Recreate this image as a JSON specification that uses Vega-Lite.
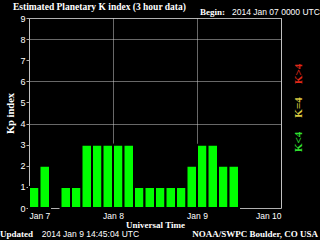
{
  "$schema": "https://vega.github.io/schema/vega-lite/v6.json",
  "width": 252,
  "height": 190,
  "autosize": {"type": "none"},
  "padding": {"left": 29, "top": 18, "right": 39, "bottom": 32},
  "background": "black",
  "title": {"text": "Estimated Planetary K index (3 hour data)", "anchor": "start", "frame": "group", "dx": -16, "offset": -3, "font": "Liberation Serif", "fontSize": 9.5, "fontWeight": "bold", "color": "white"},
  "config": {
    "view": {"stroke": "#b0b0b0", "strokeWidth": 1},
    "axis": {"domain": false, "labelColor": "white", "labelFont": "Liberation Sans", "labelFontSize": 9, "titleColor": "white", "titleFont": "Liberation Serif", "titleFontWeight": "bold", "gridColor": "#d0d0d0", "gridDash": [1, 1], "gridWidth": 1, "zindex": 1, "labelOverlap": false}
  },
  "layer": [
    {
      "data": {"values": [
        {"start": "2014-01-07T00:00:00Z", "end": "2014-01-07T03:00:00Z", "kp": 1},
        {"start": "2014-01-07T03:00:00Z", "end": "2014-01-07T06:00:00Z", "kp": 2},
        {"start": "2014-01-07T09:00:00Z", "end": "2014-01-07T12:00:00Z", "kp": 1},
        {"start": "2014-01-07T12:00:00Z", "end": "2014-01-07T15:00:00Z", "kp": 1},
        {"start": "2014-01-07T15:00:00Z", "end": "2014-01-07T18:00:00Z", "kp": 3},
        {"start": "2014-01-07T18:00:00Z", "end": "2014-01-07T21:00:00Z", "kp": 3},
        {"start": "2014-01-07T21:00:00Z", "end": "2014-01-08T00:00:00Z", "kp": 3},
        {"start": "2014-01-08T00:00:00Z", "end": "2014-01-08T03:00:00Z", "kp": 3},
        {"start": "2014-01-08T03:00:00Z", "end": "2014-01-08T06:00:00Z", "kp": 3},
        {"start": "2014-01-08T06:00:00Z", "end": "2014-01-08T09:00:00Z", "kp": 1},
        {"start": "2014-01-08T09:00:00Z", "end": "2014-01-08T12:00:00Z", "kp": 1},
        {"start": "2014-01-08T12:00:00Z", "end": "2014-01-08T15:00:00Z", "kp": 1},
        {"start": "2014-01-08T15:00:00Z", "end": "2014-01-08T18:00:00Z", "kp": 1},
        {"start": "2014-01-08T18:00:00Z", "end": "2014-01-08T21:00:00Z", "kp": 1},
        {"start": "2014-01-08T21:00:00Z", "end": "2014-01-09T00:00:00Z", "kp": 2},
        {"start": "2014-01-09T00:00:00Z", "end": "2014-01-09T03:00:00Z", "kp": 3},
        {"start": "2014-01-09T03:00:00Z", "end": "2014-01-09T06:00:00Z", "kp": 3},
        {"start": "2014-01-09T06:00:00Z", "end": "2014-01-09T09:00:00Z", "kp": 2},
        {"start": "2014-01-09T09:00:00Z", "end": "2014-01-09T12:00:00Z", "kp": 2}
      ]},
      "mark": {"type": "bar", "fill": "#00ff00", "stroke": "black", "strokeWidth": 2},
      "encoding": {
        "x": {"field": "start", "type": "temporal",
          "scale": {"type": "utc", "domain": [{"year": 2014, "month": 1, "date": 7, "utc": true}, {"year": 2014, "month": 1, "date": 10, "utc": true}]},
          "axis": {"title": "Universal Time", "titleFontSize": 9, "titlePadding": 1, "values": [{"year": 2014, "month": 1, "date": 7, "utc": true}, {"year": 2014, "month": 1, "date": 8, "utc": true}, {"year": 2014, "month": 1, "date": 9, "utc": true}, {"year": 2014, "month": 1, "date": 10, "utc": true}], "labelExpr": "utcFormat(datum.value, '%b %-d')", "labelFontSize": 8.5, "labelPadding": 3, "ticks": false, "grid": true}},
        "x2": {"field": "end"},
        "y": {"field": "kp", "type": "quantitative",
          "scale": {"domain": [0, 9], "nice": false},
          "axis": {"title": "Kp index", "titleFontSize": 10.5, "titlePadding": 4, "values": [0, 1, 2, 3, 4, 5, 6, 7, 8, 9], "labelOverlap": false, "ticks": true, "tickSize": 3, "tickColor": "#b0b0b0", "labelPadding": 1, "grid": true, "gridOpacity": {"condition": {"test": "datum.value == 4 || datum.value == 6 || datum.value == 8", "value": 1}, "value": 0}}},
        "y2": {"datum": 0}
      }
    },
    {
      "data": {"values": [{"label": "Begin:"}]},
      "mark": {"type": "text", "align": "left", "baseline": "alphabetic", "color": "white", "font": "Liberation Serif", "fontWeight": "bold", "fontSize": 9},
      "encoding": {
        "text": {"field": "label"},
        "x": {"datum": {"year": 2014, "month": 1, "date": 9, "hours": 0, "minutes": 51, "utc": true}, "type": "temporal",
          "axis": {"title": "Universal Time", "titleFontSize": 9, "titlePadding": 1, "values": [{"year": 2014, "month": 1, "date": 7, "utc": true}, {"year": 2014, "month": 1, "date": 8, "utc": true}, {"year": 2014, "month": 1, "date": 9, "utc": true}, {"year": 2014, "month": 1, "date": 10, "utc": true}], "labelExpr": "utcFormat(datum.value, '%b %-d')", "labelFontSize": 8.5, "labelPadding": 3, "ticks": false, "grid": true}},
        "y": {"datum": 9.14, "type": "quantitative",
          "axis": {"title": "Kp index", "titleFontSize": 10.5, "titlePadding": 4, "values": [0, 1, 2, 3, 4, 5, 6, 7, 8, 9], "labelOverlap": false, "ticks": true, "tickSize": 3, "tickColor": "#b0b0b0", "labelPadding": 1, "grid": true, "gridOpacity": {"condition": {"test": "datum.value == 4 || datum.value == 6 || datum.value == 8", "value": 1}, "value": 0}}}
      }
    },
    {
      "data": {"values": [{"label": "2014 Jan 07 0000 UTC"}]},
      "mark": {"type": "text", "align": "left", "baseline": "alphabetic", "color": "white", "font": "Liberation Sans", "fontSize": 8.5},
      "encoding": {
        "text": {"field": "label"},
        "x": {"datum": {"year": 2014, "month": 1, "date": 9, "hours": 10, "minutes": 0, "utc": true}, "type": "temporal",
          "axis": {"title": "Universal Time", "titleFontSize": 9, "titlePadding": 1, "values": [{"year": 2014, "month": 1, "date": 7, "utc": true}, {"year": 2014, "month": 1, "date": 8, "utc": true}, {"year": 2014, "month": 1, "date": 9, "utc": true}, {"year": 2014, "month": 1, "date": 10, "utc": true}], "labelExpr": "utcFormat(datum.value, '%b %-d')", "labelFontSize": 8.5, "labelPadding": 3, "ticks": false, "grid": true}},
        "y": {"datum": 9.14, "type": "quantitative",
          "axis": {"title": "Kp index", "titleFontSize": 10.5, "titlePadding": 4, "values": [0, 1, 2, 3, 4, 5, 6, 7, 8, 9], "labelOverlap": false, "ticks": true, "tickSize": 3, "tickColor": "#b0b0b0", "labelPadding": 1, "grid": true, "gridOpacity": {"condition": {"test": "datum.value == 4 || datum.value == 6 || datum.value == 8", "value": 1}, "value": 0}}}
      }
    },
    {
      "data": {"values": [{"label": "Updated"}]},
      "mark": {"type": "text", "align": "left", "baseline": "alphabetic", "color": "white", "font": "Liberation Serif", "fontWeight": "bold", "fontSize": 9},
      "encoding": {
        "text": {"field": "label"},
        "x": {"datum": {"year": 2014, "month": 1, "date": 6, "hours": 15, "minutes": 43, "utc": true}, "type": "temporal",
          "axis": {"title": "Universal Time", "titleFontSize": 9, "titlePadding": 1, "values": [{"year": 2014, "month": 1, "date": 7, "utc": true}, {"year": 2014, "month": 1, "date": 8, "utc": true}, {"year": 2014, "month": 1, "date": 9, "utc": true}, {"year": 2014, "month": 1, "date": 10, "utc": true}], "labelExpr": "utcFormat(datum.value, '%b %-d')", "labelFontSize": 8.5, "labelPadding": 3, "ticks": false, "grid": true}},
        "y": {"datum": -1.37, "type": "quantitative",
          "axis": {"title": "Kp index", "titleFontSize": 10.5, "titlePadding": 4, "values": [0, 1, 2, 3, 4, 5, 6, 7, 8, 9], "labelOverlap": false, "ticks": true, "tickSize": 3, "tickColor": "#b0b0b0", "labelPadding": 1, "grid": true, "gridOpacity": {"condition": {"test": "datum.value == 4 || datum.value == 6 || datum.value == 8", "value": 1}, "value": 0}}}
      }
    },
    {
      "data": {"values": [{"label": "2014 Jan  9 14:45:04 UTC"}]},
      "mark": {"type": "text", "align": "left", "baseline": "alphabetic", "color": "white", "font": "Liberation Sans", "fontSize": 8.5},
      "encoding": {
        "text": {"field": "label"},
        "x": {"datum": {"year": 2014, "month": 1, "date": 7, "hours": 3, "minutes": 40, "utc": true}, "type": "temporal",
          "axis": {"title": "Universal Time", "titleFontSize": 9, "titlePadding": 1, "values": [{"year": 2014, "month": 1, "date": 7, "utc": true}, {"year": 2014, "month": 1, "date": 8, "utc": true}, {"year": 2014, "month": 1, "date": 9, "utc": true}, {"year": 2014, "month": 1, "date": 10, "utc": true}], "labelExpr": "utcFormat(datum.value, '%b %-d')", "labelFontSize": 8.5, "labelPadding": 3, "ticks": false, "grid": true}},
        "y": {"datum": -1.37, "type": "quantitative",
          "axis": {"title": "Kp index", "titleFontSize": 10.5, "titlePadding": 4, "values": [0, 1, 2, 3, 4, 5, 6, 7, 8, 9], "labelOverlap": false, "ticks": true, "tickSize": 3, "tickColor": "#b0b0b0", "labelPadding": 1, "grid": true, "gridOpacity": {"condition": {"test": "datum.value == 4 || datum.value == 6 || datum.value == 8", "value": 1}, "value": 0}}}
      }
    },
    {
      "data": {"values": [{"label": "NOAA/SWPC Boulder, CO USA"}]},
      "mark": {"type": "text", "align": "right", "baseline": "alphabetic", "color": "white", "font": "Liberation Serif", "fontWeight": "bold", "fontSize": 9},
      "encoding": {
        "text": {"field": "label"},
        "x": {"datum": {"year": 2014, "month": 1, "date": 10, "hours": 10, "minutes": 34, "utc": true}, "type": "temporal",
          "axis": {"title": "Universal Time", "titleFontSize": 9, "titlePadding": 1, "values": [{"year": 2014, "month": 1, "date": 7, "utc": true}, {"year": 2014, "month": 1, "date": 8, "utc": true}, {"year": 2014, "month": 1, "date": 9, "utc": true}, {"year": 2014, "month": 1, "date": 10, "utc": true}], "labelExpr": "utcFormat(datum.value, '%b %-d')", "labelFontSize": 8.5, "labelPadding": 3, "ticks": false, "grid": true}},
        "y": {"datum": -1.37, "type": "quantitative",
          "axis": {"title": "Kp index", "titleFontSize": 10.5, "titlePadding": 4, "values": [0, 1, 2, 3, 4, 5, 6, 7, 8, 9], "labelOverlap": false, "ticks": true, "tickSize": 3, "tickColor": "#b0b0b0", "labelPadding": 1, "grid": true, "gridOpacity": {"condition": {"test": "datum.value == 4 || datum.value == 6 || datum.value == 8", "value": 1}, "value": 0}}}
      }
    },
    {
      "data": {"values": [{"label": "K>4", "c": "#e02818"}]},
      "mark": {"type": "text", "align": "center", "baseline": "middle", "angle": 270, "font": "Liberation Serif", "fontWeight": "bold", "fontSize": 11},
      "encoding": {
        "text": {"field": "label"},
        "color": {"field": "c", "type": "nominal", "scale": null},
        "x": {"datum": {"year": 2014, "month": 1, "date": 10, "hours": 5, "minutes": 9, "utc": true}, "type": "temporal",
          "axis": {"title": "Universal Time", "titleFontSize": 9, "titlePadding": 1, "values": [{"year": 2014, "month": 1, "date": 7, "utc": true}, {"year": 2014, "month": 1, "date": 8, "utc": true}, {"year": 2014, "month": 1, "date": 9, "utc": true}, {"year": 2014, "month": 1, "date": 10, "utc": true}], "labelExpr": "utcFormat(datum.value, '%b %-d')", "labelFontSize": 8.5, "labelPadding": 3, "ticks": false, "grid": true}},
        "y": {"datum": 6.35, "type": "quantitative",
          "axis": {"title": "Kp index", "titleFontSize": 10.5, "titlePadding": 4, "values": [0, 1, 2, 3, 4, 5, 6, 7, 8, 9], "labelOverlap": false, "ticks": true, "tickSize": 3, "tickColor": "#b0b0b0", "labelPadding": 1, "grid": true, "gridOpacity": {"condition": {"test": "datum.value == 4 || datum.value == 6 || datum.value == 8", "value": 1}, "value": 0}}}
      }
    },
    {
      "data": {"values": [{"label": "K=4", "c": "#d8c840"}]},
      "mark": {"type": "text", "align": "center", "baseline": "middle", "angle": 270, "font": "Liberation Serif", "fontWeight": "bold", "fontSize": 11},
      "encoding": {
        "text": {"field": "label"},
        "color": {"field": "c", "type": "nominal", "scale": null},
        "x": {"datum": {"year": 2014, "month": 1, "date": 10, "hours": 5, "minutes": 9, "utc": true}, "type": "temporal",
          "axis": {"title": "Universal Time", "titleFontSize": 9, "titlePadding": 1, "values": [{"year": 2014, "month": 1, "date": 7, "utc": true}, {"year": 2014, "month": 1, "date": 8, "utc": true}, {"year": 2014, "month": 1, "date": 9, "utc": true}, {"year": 2014, "month": 1, "date": 10, "utc": true}], "labelExpr": "utcFormat(datum.value, '%b %-d')", "labelFontSize": 8.5, "labelPadding": 3, "ticks": false, "grid": true}},
        "y": {"datum": 4.76, "type": "quantitative",
          "axis": {"title": "Kp index", "titleFontSize": 10.5, "titlePadding": 4, "values": [0, 1, 2, 3, 4, 5, 6, 7, 8, 9], "labelOverlap": false, "ticks": true, "tickSize": 3, "tickColor": "#b0b0b0", "labelPadding": 1, "grid": true, "gridOpacity": {"condition": {"test": "datum.value == 4 || datum.value == 6 || datum.value == 8", "value": 1}, "value": 0}}}
      }
    },
    {
      "data": {"values": [{"label": "K<4", "c": "#30e030"}]},
      "mark": {"type": "text", "align": "center", "baseline": "middle", "angle": 270, "font": "Liberation Serif", "fontWeight": "bold", "fontSize": 11},
      "encoding": {
        "text": {"field": "label"},
        "color": {"field": "c", "type": "nominal", "scale": null},
        "x": {"datum": {"year": 2014, "month": 1, "date": 10, "hours": 5, "minutes": 9, "utc": true}, "type": "temporal",
          "axis": {"title": "Universal Time", "titleFontSize": 9, "titlePadding": 1, "values": [{"year": 2014, "month": 1, "date": 7, "utc": true}, {"year": 2014, "month": 1, "date": 8, "utc": true}, {"year": 2014, "month": 1, "date": 9, "utc": true}, {"year": 2014, "month": 1, "date": 10, "utc": true}], "labelExpr": "utcFormat(datum.value, '%b %-d')", "labelFontSize": 8.5, "labelPadding": 3, "ticks": false, "grid": true}},
        "y": {"datum": 3.13, "type": "quantitative",
          "axis": {"title": "Kp index", "titleFontSize": 10.5, "titlePadding": 4, "values": [0, 1, 2, 3, 4, 5, 6, 7, 8, 9], "labelOverlap": false, "ticks": true, "tickSize": 3, "tickColor": "#b0b0b0", "labelPadding": 1, "grid": true, "gridOpacity": {"condition": {"test": "datum.value == 4 || datum.value == 6 || datum.value == 8", "value": 1}, "value": 0}}}
      }
    }
  ]
}
